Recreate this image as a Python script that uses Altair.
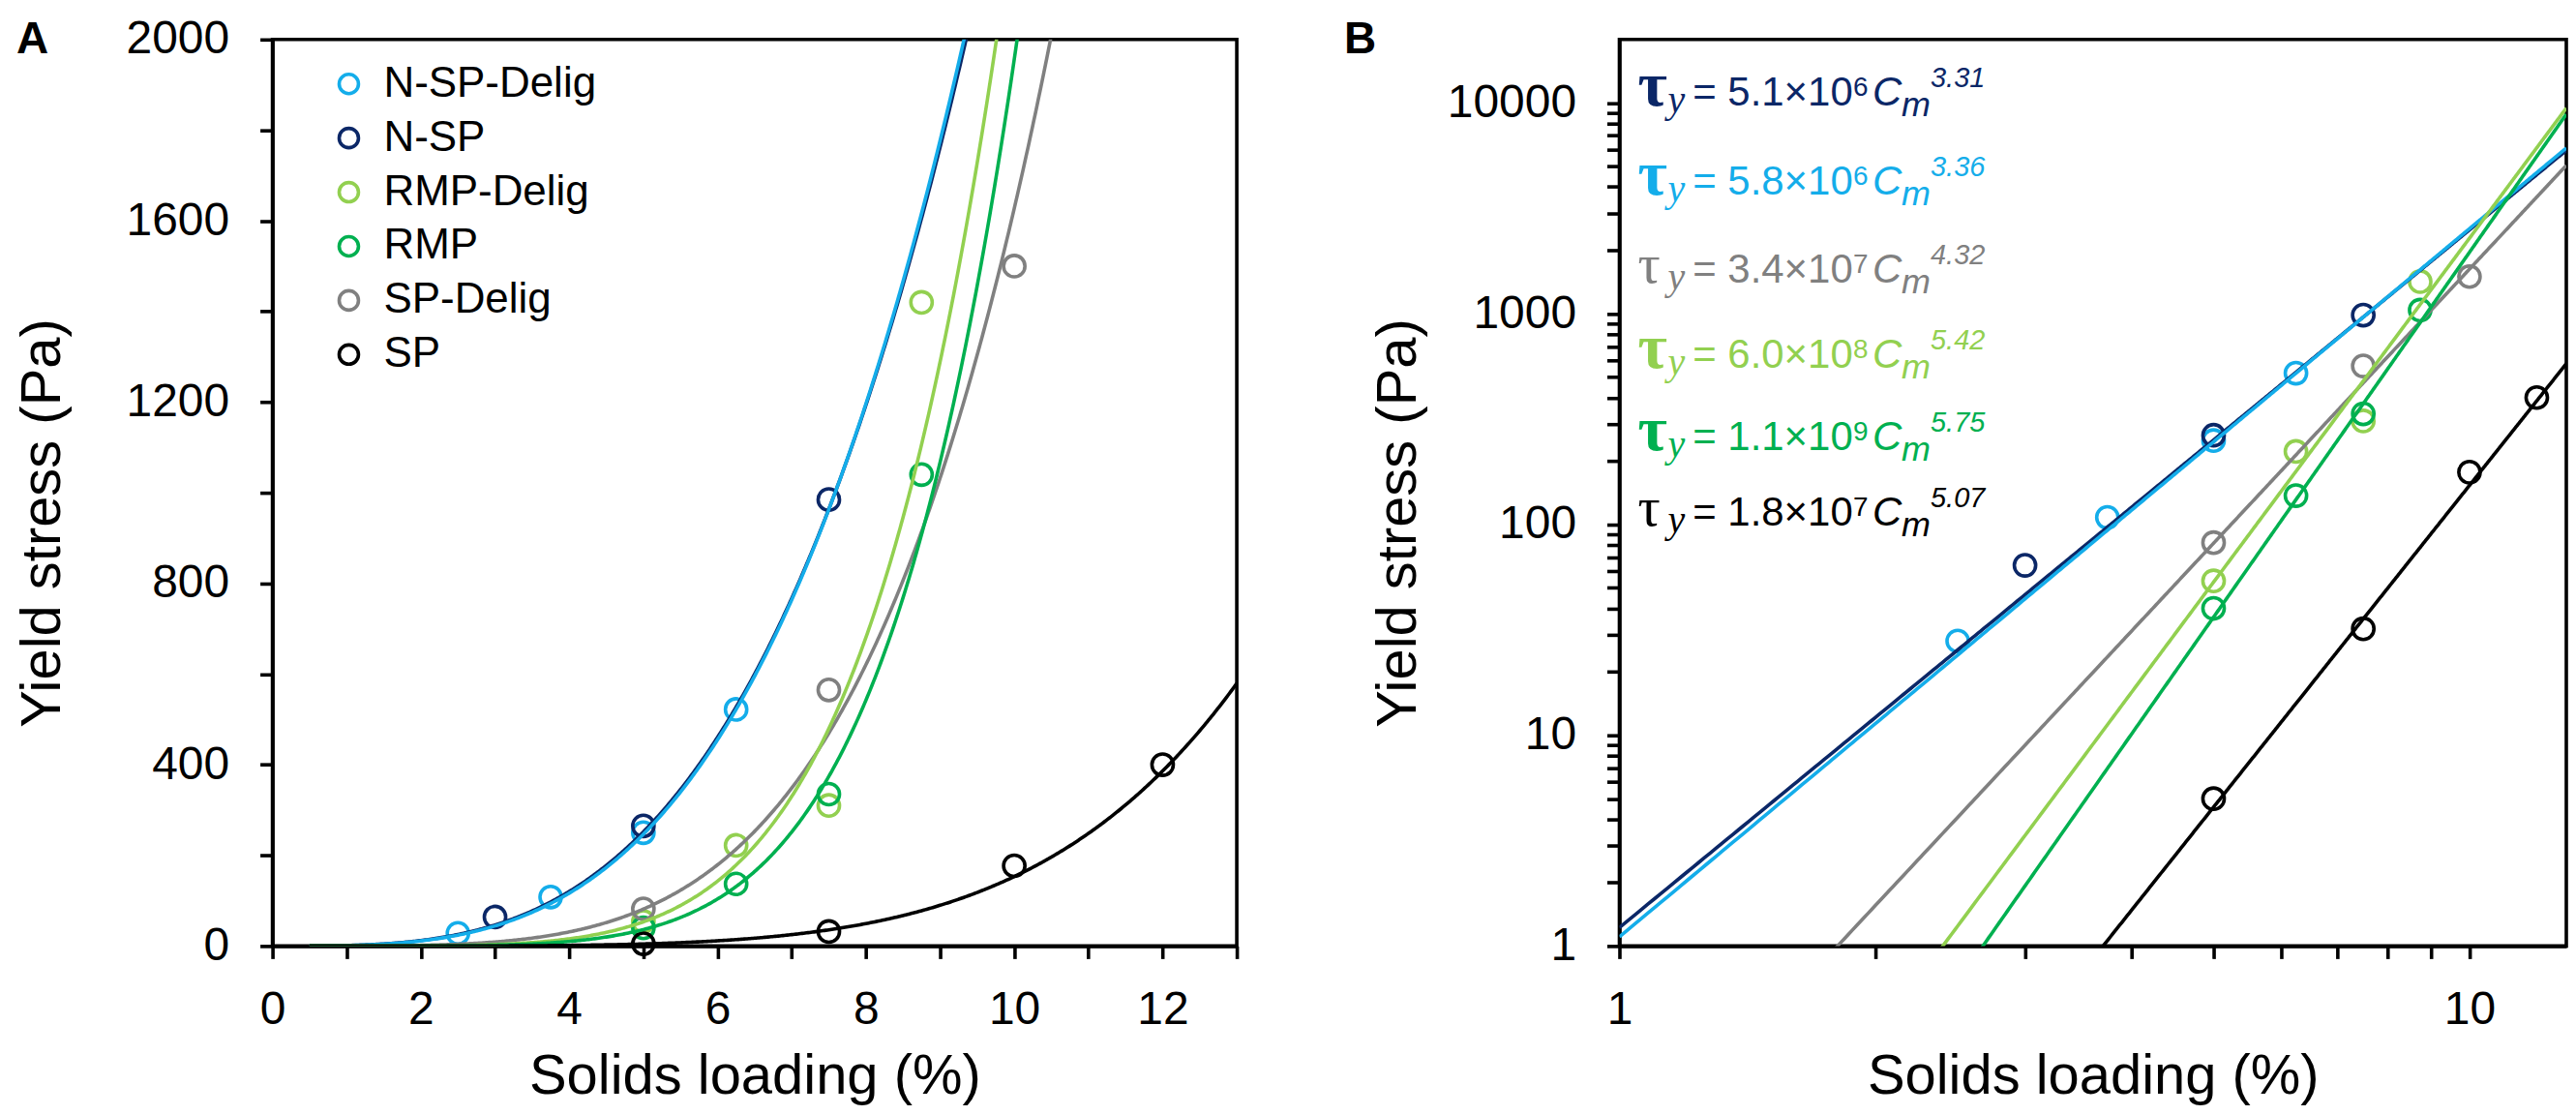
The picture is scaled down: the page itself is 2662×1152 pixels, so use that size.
import altair as alt
import pandas as pd

# ---------------- data ----------------
SERIES = ["N-SP-Delig", "N-SP", "RMP-Delig", "RMP", "SP-Delig", "SP"]
COLORS = ["#14ADEA", "#0B2767", "#92D050", "#00B050", "#808080", "#000000"]

# measured points: solids loading (%) and yield stress (Pa)
NSPD_X = [2.5, 3.75, 5.0, 6.25]
NSPD_Y = [28, 108, 250, 522]
NSP_X = [3.0, 5.0, 7.5]
NSP_Y = [64, 265, 985]
RMPD_X = [5.0, 6.25, 7.5, 8.75]
RMPD_Y = [54, 222, 310, 1420]
RMP_X = [5.0, 6.25, 7.5, 8.75]
RMP_Y = [40, 137, 335, 1040]
SPD_X = [5.0, 7.5, 10.0]
SPD_Y = [82, 565, 1500]
SP_X = [5.0, 7.5, 10.0, 12.0]
SP_Y = [5, 32, 177, 400]

# fitted power laws printed in panel B (tau_y = K x 10^E * Cm^P)
EQ_SERIES = ["N-SP", "N-SP-Delig", "SP-Delig", "RMP-Delig", "RMP", "SP"]
EQ_MANT = ["5.1", "5.8", "3.4", "6.0", "1.1", "1.8"]
EQ_EXP10 = ["6", "6", "7", "8", "9", "7"]
EQ_POW = ["3.31", "3.36", "4.32", "5.42", "5.75", "5.07"]

PANELS = ["A", "B"]

# ---------------- tables ----------------
pts = pd.concat([
    pd.DataFrame({"series": s, "x": xs, "y": ys})
    for s, xs, ys in [
        ("N-SP-Delig", NSPD_X, NSPD_Y), ("N-SP", NSP_X, NSP_Y),
        ("RMP-Delig", RMPD_X, RMPD_Y), ("RMP", RMP_X, RMP_Y),
        ("SP-Delig", SPD_X, SPD_Y), ("SP", SP_X, SP_Y),
    ]
], ignore_index=True)

eq = pd.DataFrame({
    "series": EQ_SERIES,
    "mant": EQ_MANT,
    "exp10": EQ_EXP10,
    "pow": EQ_POW,
})
eq["main"] = eq["mant"] + "\u00d710"
eq["a"] = [float(m) * 10 ** int(e) for m, e in zip(EQ_MANT, EQ_EXP10)]
eq["b"] = [float(p) for p in EQ_POW]

panel_df = pd.DataFrame({"panel": PANELS})

color_of = dict(zip(SERIES, COLORS))
SANS = "Liberation Sans"
SERIF = "Liberation Serif"
LW = 3.6

color_scale = alt.Scale(domain=SERIES, range=COLORS)

# ---------------- layout constants ----------------
WA, WB, H = 998, 980, 938

# ---------------- panel A ----------------
xA = alt.Scale(domain=[0, 13], nice=False, zero=False)
yA = alt.Scale(domain=[0, 2000], nice=False)
axxA = alt.Axis(title="Solids loading (%)", values=list(range(0, 14)), format="d",
                labelExpr="(datum.value % 2 == 0 && datum.value <= 12) ? datum.label : ''",
                titleY=106, titleBaseline="top")
axyA = alt.Axis(title="Yield stress (Pa)", values=list(range(0, 2001, 200)), format="d",
                labelExpr="datum.value % 400 == 0 ? datum.label : ''",
                titleX=-208, titleY=500)


def curves(x0, xs, ys):
    return alt.Chart(eq).transform_calculate(
        xs=f"sequence({x0}, 13.005, 0.02)"
    ).transform_flatten(["xs"]).transform_calculate(
        ys="datum.a * pow(datum.xs / 100, datum.b)"
    ).mark_line(clip=True, strokeWidth=LW).encode(
        x=xs, y=ys,
        stroke=alt.Stroke("series:N", scale=color_scale, legend=None),
        detail="series:N",
    )


legendA = alt.Legend(orient="none", legendX=57, legendY=24, title=None, direction="vertical",
                     labelFont=SANS, labelFontSize=44, labelColor="black", labelLimit=0,
                     symbolType="circle", symbolSize=400, symbolStrokeWidth=LW,
                     rowPadding=12, labelOffset=14, padding=0)

linesA = curves(0.5, alt.X("xs:Q", scale=xA, axis=axxA), alt.Y("ys:Q", scale=yA, axis=axyA))
pointsA = alt.Chart(pts).mark_point(filled=False, size=490, strokeWidth=LW, opacity=1).encode(
    x=alt.X("x:Q", scale=xA, axis=axxA),
    y=alt.Y("y:Q", scale=yA, axis=axyA),
    color=alt.Color("series:N", scale=color_scale, legend=legendA, sort=SERIES),
)


def letter(p, x, y):
    return alt.Chart(panel_df).transform_filter(alt.datum.panel == p).mark_text(
        font=SANS, fontSize=46, fontWeight="bold", align="left", baseline="top", color="black"
    ).encode(text="panel:N", x=alt.value(x), y=alt.value(y))


chartA = alt.layer(pointsA, linesA, letter("A", -265, -22)).properties(width=WA, height=H)

# ---------------- panel B ----------------
xB = alt.Scale(type="log", domain=[1, 13], nice=False)
yB = alt.Scale(type="log", domain=[1, 20000], nice=False)
ylog_ticks = [m * 10 ** e for e in range(4) for m in range(1, 10)] + [10000]
axxB = alt.Axis(title="Solids loading (%)", values=list(range(1, 11)), format="d",
                labelExpr="(datum.value == 1 || datum.value == 10) ? datum.label : ''",
                titleY=106, titleBaseline="top")
axyB = alt.Axis(title="Yield stress (Pa)", values=ylog_ticks, format="d",
                labelExpr="indexof([1, 10, 100, 1000, 10000], datum.value) >= 0 ? datum.label : ''",
                titleX=-199, titleY=500)

linesB = curves(1, alt.X("xs:Q", scale=xB, axis=axxB), alt.Y("ys:Q", scale=yB, axis=axyB))
pointsB = alt.Chart(pts).mark_point(filled=False, size=490, strokeWidth=LW, opacity=1).encode(
    x=alt.X("x:Q", scale=xB, axis=axxB),
    y=alt.Y("y:Q", scale=yB, axis=axyB),
    color=alt.Color("series:N", scale=color_scale, legend=None),
)

# equation annotations: one line per fit, built from several text pieces
ROW_BASE = [68, 160, 252, 340, 425, 503]
BOLD_TAU = [True, True, False, True, True, False]
SEGMENTS = [
    # (x, dy, font, size, style, text or field)
    (19, 0, SERIF, None, "normal", ("const", "\u03c4")),
    (50, 7, SERIF, 40, "italic", ("const", "y")),
    (76, 0, SANS, 42, "normal", ("const", "=")),
    (112, 0, SANS, 42, "normal", ("field", "main")),
    (242, -10, SANS, 28, "normal", ("field", "exp10")),
    (262, 0, SANS, 42, "italic", ("const", "C")),
    (292, 11, SANS, 36, "italic", ("const", "m")),
    (322, -19, SANS, 29, "italic", ("field", "pow")),
]

eq_layers = []
for i, s in enumerate(EQ_SERIES):
    base = alt.Chart(eq).transform_filter(alt.datum.series == s)
    for (sx, sdy, font, size, style, content) in SEGMENTS:
        weight = "normal"
        fsize = size
        if size is None:
            fsize = 66 if BOLD_TAU[i] else 58
            weight = "bold" if BOLD_TAU[i] else "normal"
        kw = dict(font=font, fontSize=fsize, fontStyle=style, fontWeight=weight,
                  align="left", baseline="alphabetic", color=color_of[s])
        if content[0] == "const":
            kw["text"] = content[1]
            m = base.mark_text(**kw).encode(x=alt.value(sx), y=alt.value(ROW_BASE[i] + sdy))
        else:
            m = base.mark_text(**kw).encode(text=alt.Text(f"{content[1]}:N"),
                                            x=alt.value(sx), y=alt.value(ROW_BASE[i] + sdy))
        eq_layers.append(m)

chartB = alt.layer(pointsB, linesB, *eq_layers, letter("B", -285, -22)).properties(width=WB, height=H)

chart = alt.hconcat(chartA, chartB, spacing=105).resolve_scale(
    color="independent", stroke="independent"
).properties(
    padding={"top": 6, "left": 6, "right": 0, "bottom": 0}
).configure_axis(
    domainColor="black", domainWidth=LW, tickColor="black", tickWidth=LW, tickSize=13,
    labelFont=SANS, labelFontSize=48, labelColor="black",
    titleFont=SANS, titleFontSize=58, titleFontWeight="normal", titleColor="black",
    grid=False, labelOverlap=False, labelFlush=False,
).configure_axisX(labelPadding=29).configure_axisY(labelPadding=32).configure_view(
    stroke="black", strokeWidth=LW
)

chart.save("out.html", embed_options={"renderer": "svg", "actions": False})
